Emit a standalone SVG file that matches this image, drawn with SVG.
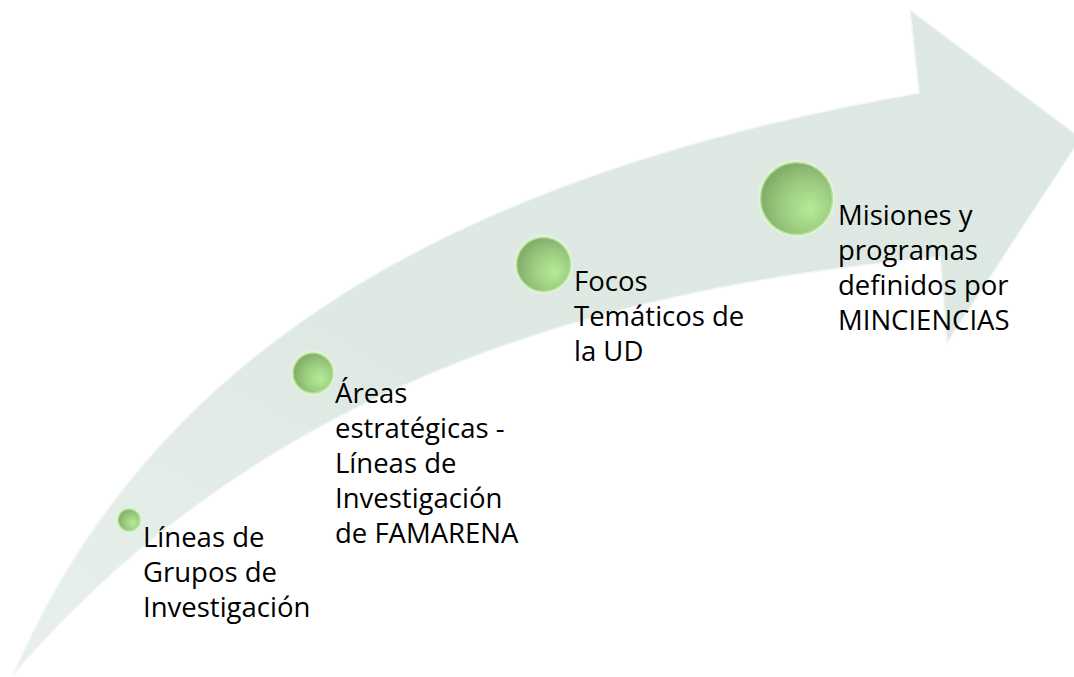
<svg xmlns="http://www.w3.org/2000/svg" width="1074" height="677" viewBox="0 0 1074 677">
<defs>
<linearGradient id="arrowFill" x1="0" y1="1" x2="1" y2="0">
<stop offset="0" stop-color="#E9F0EC"/>
<stop offset="0.4" stop-color="#DFE9E3"/>
<stop offset="1" stop-color="#DDE8E2"/>
</linearGradient>
<radialGradient id="ball" cx="0.62" cy="0.6" r="0.6" fx="0.7" fy="0.65">
<stop offset="0" stop-color="#B4EC96"/>
<stop offset="0.6" stop-color="#9CCB80"/>
<stop offset="1" stop-color="#84AE6A"/>
</radialGradient>
<style>
.lbl{font-family:"Open Sans","Noto Sans","Liberation Sans",sans-serif;font-size:27.5px;fill:#000000;}
.ball{fill:url(#ball);stroke:#B6E39C;stroke-width:1.5;}
.halo{fill:none;stroke:#E4F3DA;stroke-width:2;}
</style>
</defs>
<g id="arrow">
<path d="M 13,675 C 150,355 450,175 919,93 L 910,10 L 1081,138 L 947,343 L 940,257 C 700,280 300,340 13,675 Z" fill="url(#arrowFill)" stroke="#F4F8F5" stroke-width="1.5"/>
</g>
<g id="node1">
<circle class="halo" cx="129" cy="520" r="12.5"/>
<circle class="ball" cx="129" cy="520" r="11"/>
<text class="lbl" x="143" y="547">Líneas de</text>
<text class="lbl" x="143" y="582">Grupos de</text>
<text class="lbl" x="143" y="617">Investigación</text>
</g>
<g id="node2">
<circle class="halo" cx="313" cy="373" r="21.5"/>
<circle class="ball" cx="313" cy="373" r="20"/>
<text class="lbl" x="335" y="403">Áreas</text>
<text class="lbl" x="335" y="438">estratégicas -</text>
<text class="lbl" x="335" y="473">Líneas de</text>
<text class="lbl" x="335" y="508">Investigación</text>
<text class="lbl" x="335" y="543">de FAMARENA</text>
</g>
<g id="node3">
<circle class="halo" cx="543.5" cy="264.5" r="28.5"/>
<circle class="ball" cx="543.5" cy="264.5" r="27"/>
<text class="lbl" x="574" y="291">Focos</text>
<text class="lbl" x="574" y="326">Temáticos de</text>
<text class="lbl" x="574" y="361">la UD</text>
</g>
<g id="node4">
<circle class="halo" cx="796.5" cy="198.5" r="37.5"/>
<circle class="ball" cx="796.5" cy="198.5" r="36"/>
<text class="lbl" x="838" y="225">Misiones y</text>
<text class="lbl" x="838" y="260">programas</text>
<text class="lbl" x="838" y="295">definidos por</text>
<text class="lbl" x="838" y="330">MINCIENCIAS</text>
</g>
</svg>
